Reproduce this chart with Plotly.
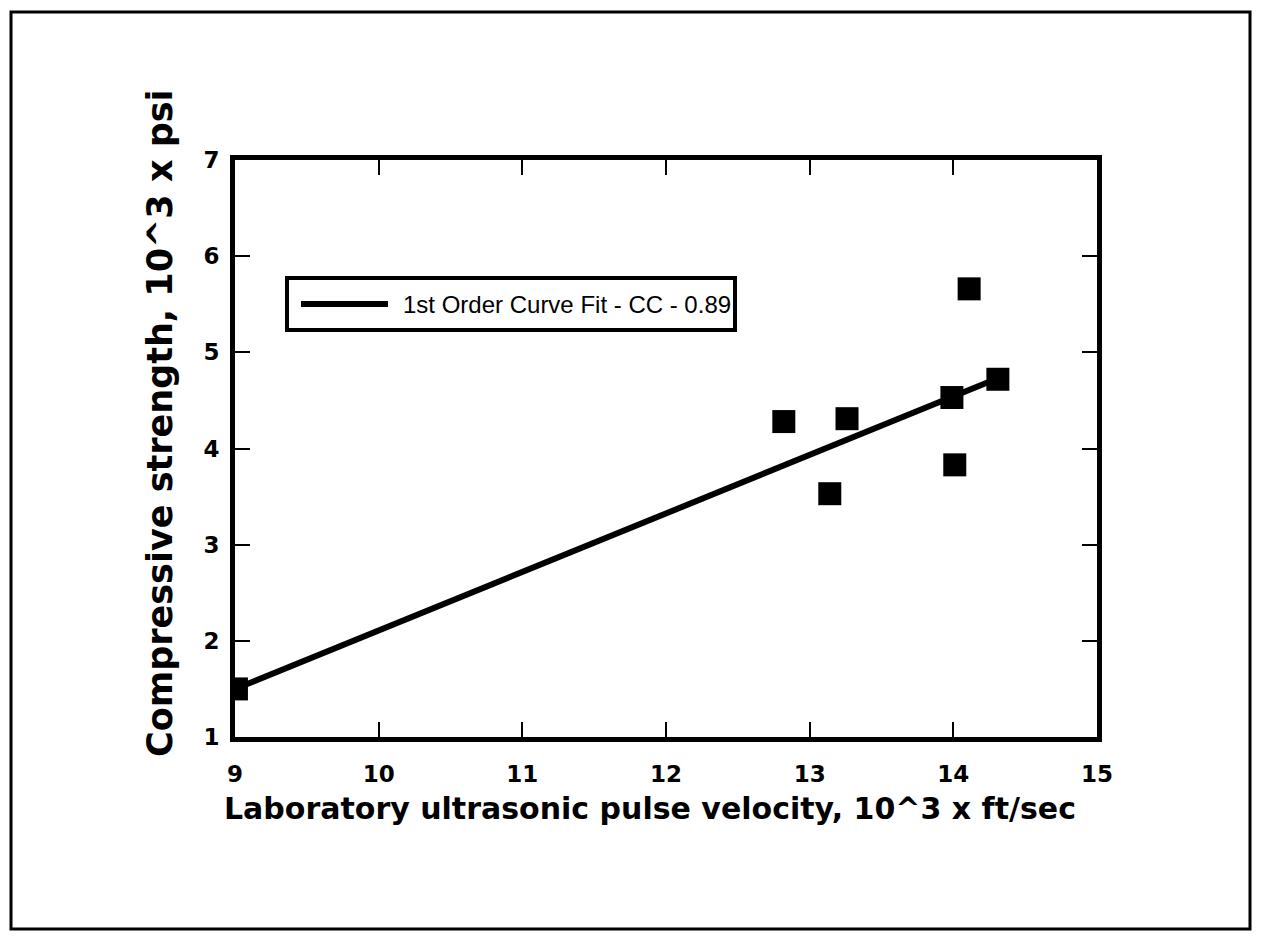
import plotly.graph_objects as go

# Data
velocity = [9.01, 12.82, 13.26, 13.14, 13.99, 14.01, 14.31, 14.11]   # 10^3 ft/sec
strength = [1.50, 4.28, 4.31, 3.53, 4.53, 3.83, 4.72, 5.66]          # 10^3 psi
fit_x = [9.05, 14.31]
fit_y = [1.53, 4.73]
x_ticks = [9, 10, 11, 12, 13, 14, 15]
y_ticks = [1, 2, 3, 4, 5, 6, 7]
legend_label = "1st Order Curve Fit - CC - 0.89"
x_title = "Laboratory ultrasonic pulse velocity, 10^3 x ft/sec"
y_title = "Compressive strength, 10^3 x psi"

PAGE_W, PAGE_H = 1262, 936
OFF = 8  # default page body margin
L, R, T, B = 235, 1097, 160, 737  # plot area pixel bounds (page coords)
pw, ph = R - L, B - T

def px(xp):
    return (xp - L) / pw

def py(yp):
    return (B - yp) / ph

FONT = "Liberation Sans, Arial, sans-serif"
BOLD = "DejaVu Sans, Liberation Sans, sans-serif"

fig = go.Figure()
fig.add_trace(go.Scatter(x=fit_x, y=fit_y, mode="lines",
                         line=dict(color="black", width=6),
                         showlegend=False, name=legend_label))
fig.add_trace(go.Scatter(x=velocity, y=strength, mode="markers",
                         marker=dict(symbol="square", size=23, color="black"),
                         showlegend=False))

axis_common = dict(showline=True, linecolor="black", linewidth=5, mirror="ticks",
                   ticks="inside", ticklen=15, tickwidth=1.5, tickcolor="black",
                   showgrid=False, zeroline=False,
                   tickfont=dict(family=BOLD, size=23, color="black", weight="bold"))

fig.update_xaxes(range=[9, 15], tickvals=x_ticks, ticktext=[str(v) for v in x_ticks],
                 ticklabelstandoff=12, **axis_common)
fig.update_yaxes(range=[1, 7], tickvals=y_ticks, ticktext=[str(v) for v in y_ticks],
                 ticklabelstandoff=6, **axis_common)

shapes = [
    # outer page frame
    dict(type="rect", xref="paper", yref="paper",
         x0=px(11), x1=px(1250), y0=py(929), y1=py(12),
         line=dict(color="black", width=3)),
    # legend box
    dict(type="rect", xref="paper", yref="paper",
         x0=px(287), x1=px(735), y0=py(330), y1=py(278),
         line=dict(color="black", width=4), fillcolor="white"),
    # legend line sample
    dict(type="line", xref="paper", yref="paper",
         x0=px(301), x1=px(388), y0=py(304), y1=py(304),
         line=dict(color="black", width=6)),
]

annotations = [
    dict(text=legend_label, xref="paper", yref="paper", x=px(401), y=py(304),
         xanchor="left", yanchor="middle", showarrow=False,
         font=dict(family=FONT, size=24, color="black")),
    dict(text=x_title, xref="paper", yref="paper", x=px(650), y=py(808),
         xanchor="center", yanchor="middle", showarrow=False,
         font=dict(family=BOLD, size=30, color="black", weight="bold")),
    dict(text=y_title, xref="paper", yref="paper", x=px(160), y=py(423),
         xanchor="center", yanchor="middle", showarrow=False, textangle=-90,
         font=dict(family=BOLD, size=35, color="black", weight="bold")),
]

fig.update_layout(width=PAGE_W - OFF, height=PAGE_H - OFF,
                  margin=dict(l=L - OFF, r=PAGE_W - R, t=T - OFF, b=PAGE_H - B, pad=0),
                  paper_bgcolor="white", plot_bgcolor="white",
                  shapes=shapes, annotations=annotations, showlegend=False)

fig.write_html("out.html")
